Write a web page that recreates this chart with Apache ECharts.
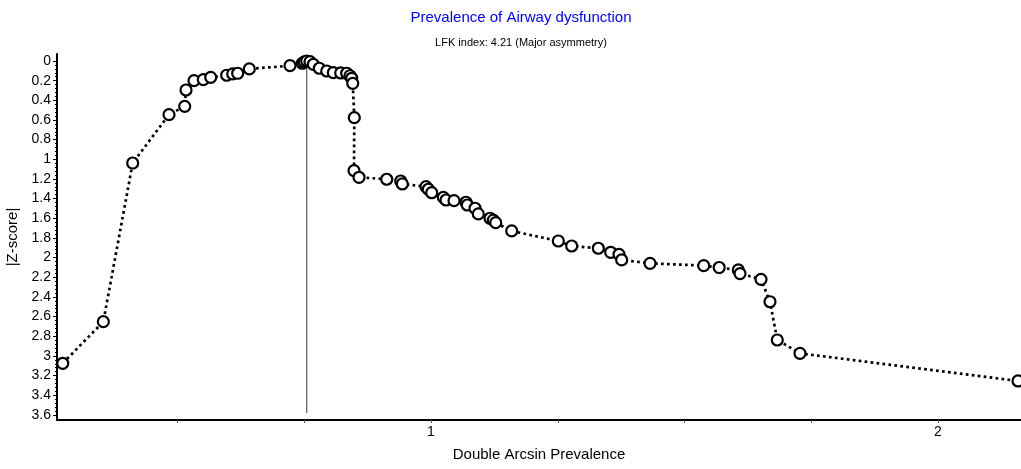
<!DOCTYPE html>
<html>
<head>
<meta charset="utf-8">
<script src="https://cdn.jsdelivr.net/npm/echarts@6/dist/echarts.min.js"></script>
<style>
html,body{margin:0;padding:0;background:#fff;}
#chart{width:1021px;height:469px;}
</style>
</head>
<body>
<div id="chart"></div>
<script>
// Double Arcsin Prevalence (x) and |Z-score| (y)
var prevalence = [0.2736,0.3537,0.4116,0.4832,0.5142,0.5168,0.5325,0.5509,0.5655,0.5970,
  0.6089,0.6187,0.6416,0.7219,0.7462,0.7501,0.7548,0.7613,0.7679,0.7797,
  0.7943,0.8073,0.8219,0.8337,0.8402,0.8436,0.8456,0.8487,0.8481,0.8580,
  0.9126,0.9402,0.9434,0.9901,0.9947,1.0014,1.0243,1.0296,1.0454,1.0690,
  1.0716,1.0868,1.0933,1.1164,1.1229,1.1276,1.1592,1.2511,1.2775,1.3300,
  1.3544,1.3708,1.3761,1.4320,1.5379,1.5684,1.6061,1.6095,1.6509,1.6686,
  1.6830,1.7278,2.1578];
var zScore = [3.075,2.652,1.038,0.546,0.461,0.295,0.200,0.190,0.166,0.145,
  0.132,0.125,0.081,0.048,0.023,0.010,0.000,0.007,0.034,0.074,
  0.102,0.119,0.122,0.125,0.150,0.176,0.227,0.577,1.116,1.183,
  1.203,1.221,1.251,1.279,1.305,1.340,1.387,1.414,1.421,1.437,
  1.465,1.498,1.556,1.600,1.618,1.645,1.729,1.831,1.882,1.905,
  1.946,1.967,2.024,2.058,2.082,2.101,2.125,2.163,2.221,2.449,
  2.838,2.974,3.255];
// reference (vertical) line at the apex
var refLineX = [0.755, 0.755];
var refLineY = [0, 3.58];
// tick values / labels
var xTickValues = [0.5, 0.75, 1, 1.25, 1.5, 1.75, 2];
var xLabelValues = [1, 2];
var yLabelValues = [0,0.2,0.4,0.6,0.8,1,1.2,1.4,1.6,1.8,2,2.2,2.4,2.6,2.8,3,3.2,3.4,3.6];
var yMinorValues = [];
for (var i = 0; i <= 90; i++) { yMinorValues.push(+(i * 0.04).toFixed(2)); }

var pts = prevalence.map(function (x, i) { return [x, zScore[i]]; });
var refPts = refLineX.map(function (x, i) { return [x, refLineY[i]]; });

var FONT = 'Liberation Sans';
var chart = echarts.init(document.getElementById('chart'), null, {renderer: 'canvas'});
chart.setOption({
  animation: false,
  backgroundColor: '#fff',
  title: [
    {text: 'Prevalence of Airway dysfunction', left: 516, top: 5, textAlign: 'center',
     textStyle: {color: '#0000ff', fontSize: 15, fontWeight: 'normal', fontFamily: FONT}},
    {text: 'LFK index: 4.21 (Major asymmetry)', left: 516, top: 32, textAlign: 'center',
     textStyle: {color: '#000', fontSize: 11, fontWeight: 'normal', fontFamily: FONT}}
  ],
  grid: {left: 57, right: 0, top: 54, bottom: 49, containLabel: false, outerBoundsMode: 'none'},
  xAxis: {
    type: 'value', min: 0.2623, max: 2.1637, position: 'bottom',
    name: 'Double Arcsin Prevalence', nameLocation: 'middle', nameGap: 27,
    nameTextStyle: {color: '#000', fontSize: 15, fontFamily: FONT},
    splitLine: {show: false},
    axisLine: {onZero: false, lineStyle: {color: '#000', width: 2}},
    axisTick: {show: true, length: 3, customValues: xTickValues, lineStyle: {color: '#555', width: 1}},
    axisLabel: {customValues: xLabelValues, color: '#000', fontSize: 14, fontFamily: FONT, margin: 5,
      formatter: function (v) { return String(v); }}
  },
  yAxis: [{
    type: 'value', inverse: true, min: -0.071, max: 3.652,
    name: '|Z-score|', nameLocation: 'middle', nameGap: 28, nameRotate: 90,
    nameTextStyle: {color: '#000', fontSize: 15, fontFamily: FONT},
    splitLine: {show: false},
    axisLine: {show: true, onZero: false, lineStyle: {color: '#000', width: 2}},
    axisTick: {show: true, length: 4, customValues: yLabelValues, lineStyle: {color: '#000', width: 1}},
    axisLabel: {customValues: yLabelValues, color: '#000', fontSize: 14, fontFamily: FONT, margin: 6,
      formatter: function (v) { return String(+(+v).toFixed(1)); }}
  }, {
    type: 'value', inverse: true, min: -0.071, max: 3.652, position: 'left',
    splitLine: {show: false},
    axisLine: {show: false, onZero: false},
    axisTick: {show: true, length: 2, customValues: yMinorValues, lineStyle: {color: '#000', width: 1}},
    axisLabel: {show: false}
  }],
  series: [{
    type: 'line', data: refPts, symbol: 'none', silent: true, z: 1,
    lineStyle: {color: '#333', width: 1}
  }, {
    type: 'line', data: pts, z: 3,
    symbol: 'circle', symbolSize: 11, showAllSymbol: true,
    itemStyle: {color: '#fff', borderColor: '#000', borderWidth: 2.2},
    lineStyle: {color: '#000', width: 2.7, type: [2.7, 3.3]},
    clip: false
  }]
});
</script>
</body>
</html>
